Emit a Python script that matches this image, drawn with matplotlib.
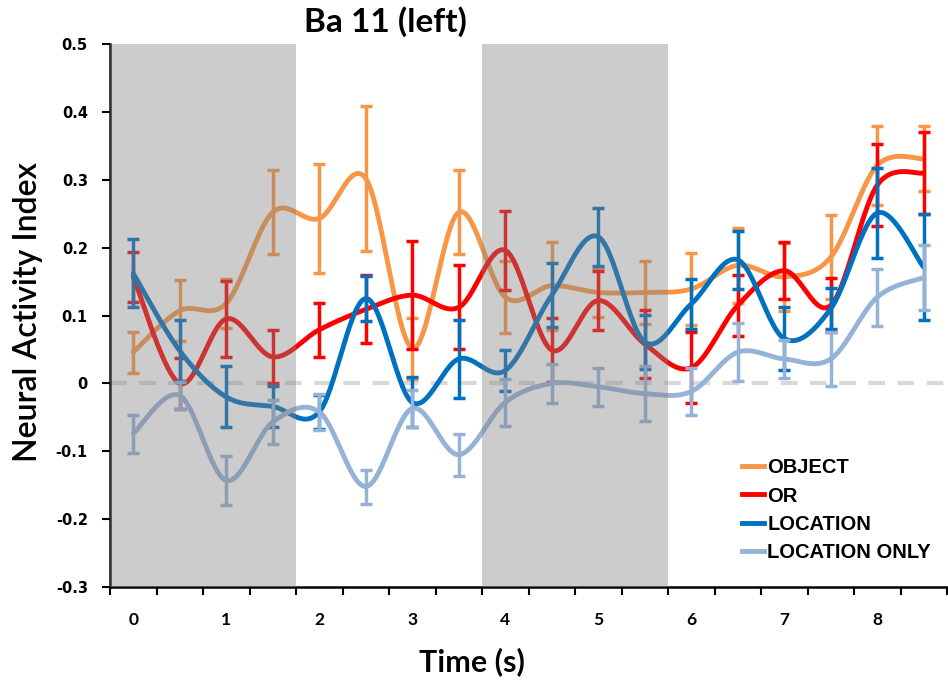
import numpy as np
import matplotlib
matplotlib.use("Agg")
import matplotlib.pyplot as plt

# time points (s) and series values
time_s = [0, 0.5, 1, 1.5, 2, 2.5, 3, 3.5, 4, 4.5, 5, 5.5, 6, 6.5, 7, 7.5, 8, 8.5]

object_mean = [0.046, 0.107, 0.118, 0.252, 0.243, 0.302, 0.052, 0.252, 0.127, 0.144,
               0.134, 0.134, 0.139, 0.174, 0.157, 0.186, 0.321, 0.331]
object_err = [0.030, 0.045, 0.036, 0.062, 0.080, 0.107, 0.045, 0.062, 0.053, 0.065,
              0.036, 0.047, 0.053, 0.055, 0.050, 0.062, 0.058, 0.048]

or_mean = [0.157, 0.000, 0.095, 0.039, 0.079, 0.109, 0.130, 0.112, 0.196, 0.049,
           0.122, 0.058, 0.023, 0.115, 0.166, 0.115, 0.292, 0.310]
or_err = [0.037, 0.038, 0.056, 0.039, 0.040, 0.050, 0.080, 0.062, 0.058, 0.047,
          0.043, 0.050, 0.052, 0.045, 0.042, 0.040, 0.060, 0.060]

loc_mean = [0.162, 0.048, -0.020, -0.034, -0.042, 0.125, -0.028, 0.036, 0.019, 0.130,
            0.216, 0.061, 0.117, 0.182, 0.066, 0.110, 0.251, 0.171]
loc_err = [0.050, 0.045, 0.045, 0.030, 0.025, 0.033, 0.037, 0.057, 0.030, 0.047,
           0.043, 0.040, 0.037, 0.043, 0.047, 0.030, 0.066, 0.078]

only_mean = [-0.074, -0.018, -0.143, -0.057, -0.042, -0.152, -0.037, -0.105, -0.028, 0.000,
             -0.005, -0.015, -0.012, 0.046, 0.036, 0.036, 0.127, 0.156]
only_err = [0.028, 0.020, 0.036, 0.033, 0.027, 0.025, 0.027, 0.031, 0.035, 0.029,
            0.028, 0.040, 0.035, 0.043, 0.028, 0.040, 0.042, 0.048]

series_names = ["OBJECT", "OR", "LOCATION", "LOCATION ONLY"]
series_colors = ["#F79646", "#FF0000", "#0070C0", "#95B3D7"]

# shaded task periods (s)
shade_spans = [(-0.25, 1.75), (3.75, 5.75)]


def smooth(x, y, n=30):
    # Excel-style smoothed line (Catmull-Rom through the points)
    p = np.column_stack([x, y]).astype(float)
    p = np.vstack([p[0], p, p[-1]])
    t = np.linspace(0, 1, n)[:, None]
    out = []
    for i in range(1, len(p) - 2):
        p0, p1, p2, p3 = p[i - 1], p[i], p[i + 1], p[i + 2]
        b1 = p1 + (p2 - p0) / 6
        b2 = p2 - (p3 - p1) / 6
        seg = ((1 - t) ** 3) * p1 + 3 * ((1 - t) ** 2) * t * b1 + 3 * (1 - t) * t ** 2 * b2 + t ** 3 * p2
        out.append(seg if i == 1 else seg[1:])
    out = np.vstack(out)
    return out[:, 0], out[:, 1]


fig = plt.figure(figsize=(9.48, 6.82), dpi=100)
ax = fig.add_axes([110 / 948, 1 - 587 / 682, 837 / 948, 543 / 682])

ax.axhline(0, color="#D9D9D9", lw=3, ls=(0, (4, 3)), zorder=1)

means = [object_mean, or_mean, loc_mean, only_mean]
errs = [object_err, or_err, loc_err, only_err]
order = [3, 0, 1, 2]
for k in order:
    c = series_colors[k]
    ax.errorbar(time_s, means[k], yerr=errs[k], fmt="none", ecolor=c,
                elinewidth=2.5, capsize=4, capthick=2.5, zorder=2 + k)
    sx, sy = smooth(time_s, means[k])
    ax.plot(sx, sy, color=c, lw=3.5, zorder=2.5 + k, solid_capstyle="round")

# gray overlay on top of the lines
for a, b in shade_spans:
    ax.axvspan(a, b, color="#808080", alpha=0.4, lw=0, zorder=10)

handles = [plt.Line2D([], [], color=c, lw=3.5) for c in series_colors]
leg = ax.legend(handles, series_names, loc="upper left",
                bbox_to_anchor=(734 / 948, 1 - 450 / 682), bbox_transform=fig.transFigure,
                borderaxespad=0, frameon=False, handlelength=1.1, handletextpad=0.15,
                labelspacing=0.47,
                prop={"family": "Liberation Sans", "size": 14.5, "weight": "bold"})

ax.set_xlim(-0.25, 8.75)
ax.set_ylim(-0.3, 0.5)
ax.set_yticks(np.arange(-0.3, 0.51, 0.1))
ax.set_yticklabels(["-0.3", "-0.2", "-0.1", "0", "0.1", "0.2", "0.3", "0.4", "0.5"],
                   fontfamily="DejaVu Sans", fontweight="bold", fontsize=10.5)
ax.set_xticks(np.arange(-0.25, 8.8, 0.5))
ax.set_xticklabels([])
ax.set_xticks(range(0, 9), minor=True)
ax.set_xticklabels([str(i) for i in range(0, 9)], minor=True,
                   fontfamily="Lato", fontweight="bold", fontsize=12.5)
ax.tick_params(axis="x", which="minor", length=0, pad=18)
ax.tick_params(axis="x", which="major", length=6, width=1.5, direction="out")
ax.tick_params(axis="y", length=6, width=1.5, direction="out", pad=10)

for s in ["top", "right"]:
    ax.spines[s].set_visible(False)
for s in ["left", "bottom"]:
    ax.spines[s].set_linewidth(1.8)

fig.text(385 / 948, 1 - 22 / 682, "Ba 11 (left)", ha="center", va="center",
         fontfamily="Lato", fontweight="bold", fontsize=24)
fig.text(28 / 948, 1 - 312 / 682, "Neural Activity Index", ha="center", va="center",
         rotation=90, fontfamily="Lato", fontweight="semibold", fontsize=23)
fig.text(472 / 948, 1 - 662 / 682, "Time (s)", ha="center", va="center",
         fontfamily="Lato", fontweight="bold", fontsize=22)

fig.savefig("out.png", dpi=100)
